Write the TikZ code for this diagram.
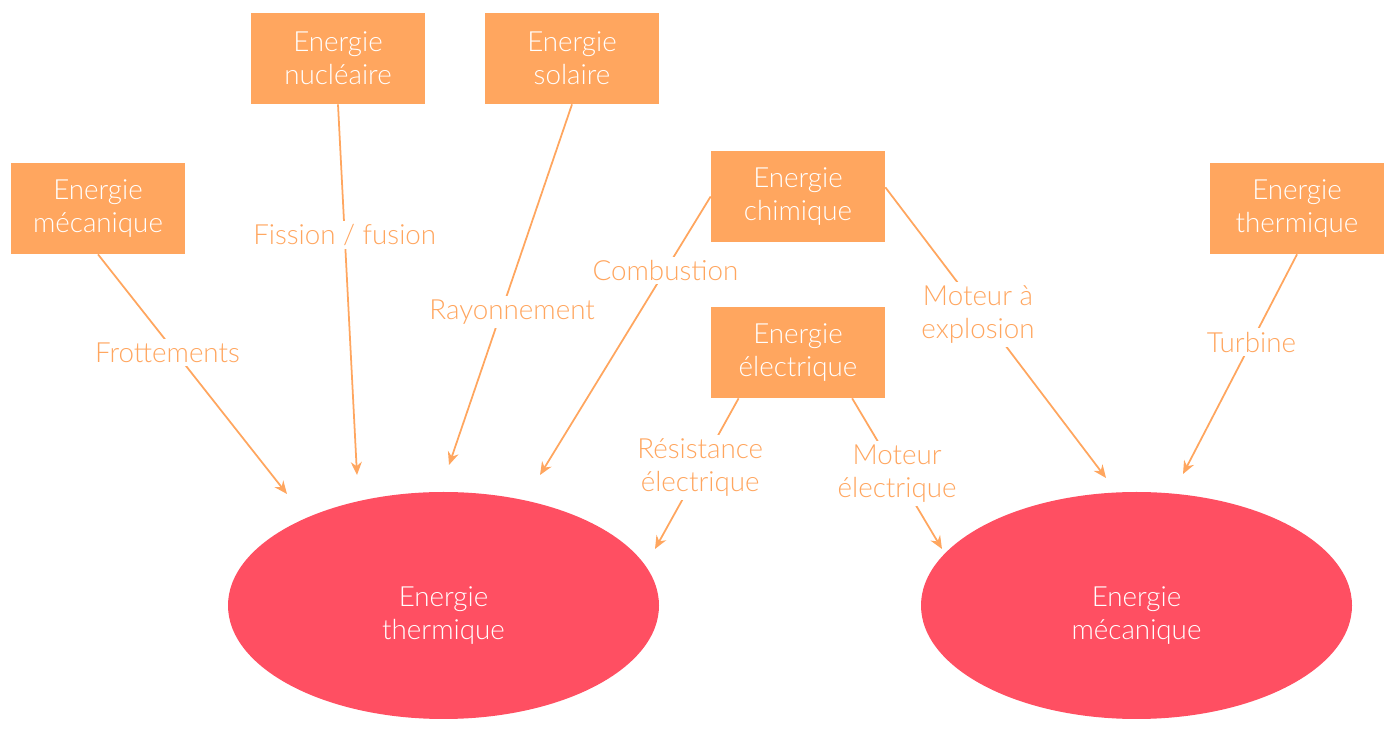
\documentclass[tikz,border=0pt]{standalone}
\usepackage{fontspec}
\setmainfont{Lato Light}
\usetikzlibrary{positioning,arrows.meta,calc,shapes.geometric}
\definecolor{enorange}{HTML}{FFA65F}
\definecolor{enred}{HTML}{FF4F62}
\tikzset{
  ebox/.style={rectangle,fill=enorange,text=white,minimum width=3.48cm,minimum height=1.82cm,inner sep=0pt,align=center},
  eblob/.style={ellipse,fill=enred,minimum width=8.62cm,minimum height=4.54cm,inner sep=0pt},
  bloblbl/.style={text=white,align=center,yshift=-0.2cm},
  conv/.style={-{Stealth[length=2.6mm,width=2.2mm]},line width=1pt,enorange},
  convlbl/.style={fill=white,text=enorange,inner sep=2pt,align=center},
}
\begin{document}
\begin{tikzpicture}[font=\fontsize{15.8}{18.8}\selectfont]
  \useasboundingbox (0,0) rectangle (28,14.78);
  % sources
  \node[ebox] (mec)   at (1.96,10.61)  {Energie\\mécanique};
  \node[ebox] (nuc)   at (6.76,13.61)  {Energie\\nucléaire};
  \node[ebox] (sol)   at (11.44,13.61) {Energie\\solaire};
  \node[ebox] (chim)  at (15.96,10.85) {Energie\\chimique};
  \node[ebox] (elec)  at (15.96,7.73)  {Energie\\électrique};
  \node[ebox] (therm) at (25.94,10.61) {Energie\\thermique};
  % targets
  \node[eblob,label={[bloblbl]center:{Energie\\thermique}}] (hot) at (8.87,2.67) {};
  \node[eblob,label={[bloblbl]center:{Energie\\mécanique}}] (mov) at (22.73,2.67) {};
  % arrow ends
  \coordinate (t1) at (5.74,4.90);
  \coordinate (t2) at (7.14,5.28);
  \coordinate (t3) at (8.98,5.48);
  \coordinate (t4) at (10.80,5.28);
  \coordinate (t5) at (22.12,5.22);
  \coordinate (t6) at (13.10,3.80);
  \coordinate (t7) at (18.84,3.80);
  \coordinate (t8) at (23.66,5.30);
  \coordinate (eL) at ($(elec.south west)!0.16!(elec.south east)$);
  \coordinate (eR) at ($(elec.south west)!0.81!(elec.south east)$);
  % conversions
  \draw[conv] (mec.south) -- node[convlbl,pos=0.41,xshift=-0.16cm] {Frottements} (t1);
  \draw[conv] (nuc.south) -- node[convlbl,pos=0.353] {Fission / fusion} (t2);
  \draw[conv] (sol.south) -- node[convlbl,pos=0.576,xshift=0.22cm] {Rayonnement} (t3);
  \draw[conv] (chim.west) -- node[convlbl,pos=0.265] {Combustion} (t4);
  \draw[conv] (chim.6) -- node[convlbl,pos=0.438,xshift=-0.08cm] {Moteur à\\explosion} (t5);
  \draw[conv] (eL) -- node[convlbl,pos=0.46] {Résistance\\électrique} (t6);
  \draw[conv] (eR) -- node[convlbl,pos=0.5] {Moteur\\électrique} (t7);
  \draw[conv] (therm.south) -- node[convlbl,pos=0.40] {Turbine} (t8);
\end{tikzpicture}
\end{document}
